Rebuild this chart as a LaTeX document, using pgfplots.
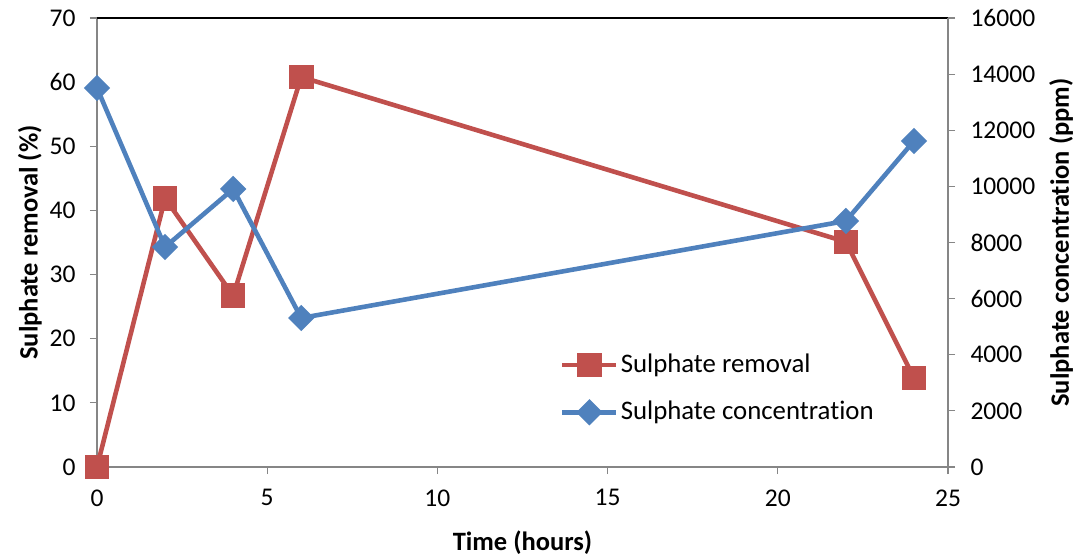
\documentclass[border=0pt]{standalone}
\usepackage{fontspec}
\setmainfont{Carlito}[Ligatures=NoCommon]
\usepackage{pgfplots}
\pgfplotsset{compat=1.18}
\definecolor{cred}{HTML}{C0504D}
\definecolor{cblue}{HTML}{4F81BD}
\definecolor{axgray}{RGB}{134,134,134}
\begin{document}
\fontsize{25}{30}\selectfont
\begin{tikzpicture}
\pgfplotsset{every axis/.append style={scale only axis, width=851pt, height=449pt,
  xmin=0, xmax=25, font=\fontsize{25.5}{30}\selectfont,
  /pgf/number format/assume math mode=true,
  tick align=outside, major tick length=7pt,
  tick style={axgray, line width=1.2pt},
  axis line style={axgray, line width=1.5pt},
  clip=false}}
\begin{axis}[axis x line*=bottom, axis y line*=left,
  ymin=0, ymax=70, ytick={0,10,...,70}, xtick={0,5,...,25},
  xticklabel style={yshift=-7pt},
  yticklabel style={xshift=-6pt},
  xlabel={\textbf{Time (hours)}}, ylabel={\textbf{Sulphate removal (\%)}},
  every axis y label/.style={at={(axis description cs:-0.079,0.5)}, rotate=90, anchor=center, font=\fontsize{26.5}{30}\selectfont},
  every axis x label/.style={at={(axis description cs:0.5,-0.169)}, anchor=center, font=\fontsize{26.5}{30}\selectfont},
  ]
\draw[black, line width=1.2pt] (rel axis cs:0,1) -- (rel axis cs:1,1);
\coordinate (sw) at (rel axis cs:0,0);
\addplot[cred, line width=4.6pt, mark=square*, mark size=10pt] coordinates {
(0,0) (2,41.9) (4,26.7) (6,60.8) (22,35.1) (24,13.9)};
\end{axis}
\begin{axis}[axis x line=none, axis y line*=right,
  ymin=0, ymax=16000, ytick={0,2000,...,16000}, scaled y ticks=false,
  yticklabel style={/pgf/number format/fixed, /pgf/number format/1000 sep={}, xshift=7pt},
  ylabel={\textbf{Sulphate concentration (ppm)}},
  every axis y label/.style={at={(axis description cs:1.133,0.5)}, rotate=90, anchor=center, font=\fontsize{26.5}{30}\selectfont},
  legend style={at={(axis description cs:0.544,0.257)}, anchor=north west, draw=none, fill=none,
    font=\fontsize{26.8}{30}\selectfont, row sep=21pt, inner sep=0pt},
  legend cell align=left,
  legend image code/.code={\draw[mark repeat=2,mark phase=2,#1] plot coordinates {(0pt,0pt) (27pt,0pt) (54pt,0pt)};},
  ]
\addlegendimage{cred, line width=4.6pt, mark=square*, mark size=10pt}
\addlegendentry{Sulphate removal}
\addplot[cblue, line width=4.6pt, mark=square*, mark size=7pt, mark options={rotate=45}] coordinates {
(0,13506) (2,7840) (4,9907) (6,5310) (22,8767) (24,11618)};
\addlegendentry{Sulphate concentration}
\end{axis}
\pgfresetboundingbox
\path (sw) ++(-97pt,-91pt) rectangle ++(1077pt,558pt);
\end{tikzpicture}
\end{document}
